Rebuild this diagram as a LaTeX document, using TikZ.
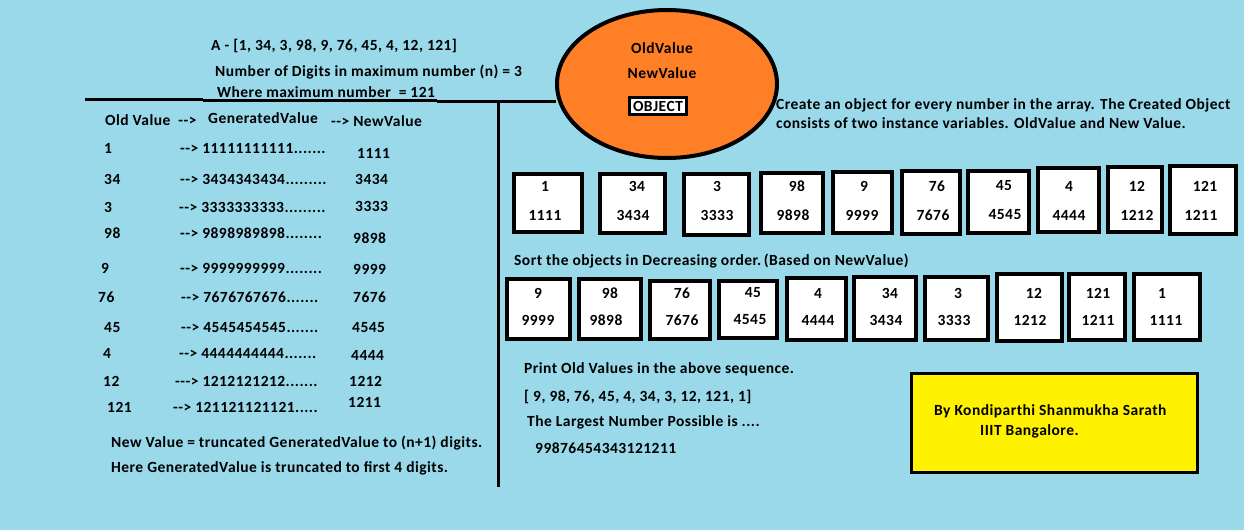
\documentclass[tikz,border=0pt]{standalone}
\usepackage{fontspec}
\setmainfont{Carlito}[LetterSpace=3]
\definecolor{bgblue}{HTML}{99D9EA}
\definecolor{porange}{HTML}{FF7F27}
\definecolor{pyellow}{HTML}{FFF200}
\begin{document}
\begin{tikzpicture}[x=1pt,y=-1pt,
  every node/.style={font=\bfseries\fontsize{15.5}{18}\selectfont, inner sep=0pt},
  t/.style={anchor=base west},
  c/.style={anchor=center},
  obj/.style={draw=black, line width=4pt, fill=white, rectangle, inner sep=0pt},
  rule/.style={draw=black, line width=3pt}]
\fill[bgblue] (0,0) rectangle (1244,530);
\useasboundingbox (0,0) rectangle (1244,530);

% header
\node[t] (ha) at (211,50) {A - [1, 34, 3, 98, 9, 76, 45, 4, 12, 121]};
\node[t] (hb) at (215,76) {Number of Digits in maximum number (n) = 3};
\node[t] (hc) at (217,97) {Where maximum number\ \ = 121};

% rules
\draw[rule] (85,99) -- (203,99);
\draw[rule] (203,100) -- (437,100);
\draw[rule] (437,101) -- (556,101);
\draw[rule] (498,100) -- (498,487);

% table header
\node[t] (th1) at (105,125) {Old Value\ \ -{}->};
\node[t] (th2) at (208,123) {GeneratedValue};
\node[t] (th3) at (331,126) {-{}-> NewValue};

% table rows
\node[t] (o1) at (104,153) {1};   \node[t] (g1) at (180,153) {-{}-> 11111111111.......};  \node[t] (v1) at (357,158) {1111};
\node[t] (o2) at (104,184) {34};  \node[t] (g2) at (180,184) {-{}-> 3434343434.........}; \node[t] (v2) at (355,184) {3434};
\node[t] (o3) at (104,212) {3};   \node[t] (g3) at (179,212) {-{}-> 3333333333.........}; \node[t] (v3) at (355,211) {3333};
\node[t] (o4) at (104,238) {98};  \node[t] (g4) at (180,238) {-{}-> 9898989898........};  \node[t] (v4) at (353,243) {9898};
\node[t] (o5) at (101,273) {9};   \node[t] (g5) at (180,273) {-{}-> 9999999999........};  \node[t] (v5) at (353,274) {9999};
\node[t] (o6) at (98,302) {76};   \node[t] (g6) at (181,302) {-{}-> 7676767676.......};   \node[t] (v6) at (353,302) {7676};
\node[t] (o7) at (104,332) {45};  \node[t] (g7) at (181,332) {-{}-> 4545454545.......};   \node[t] (v7) at (352,332) {4545};
\node[t] (o8) at (103,358) {4};   \node[t] (g8) at (179,358) {-{}-> 4444444444.......};   \node[t] (v8) at (351,360) {4444};
\node[t] (o9) at (103,386) {12};  \node[t] (g9) at (175,386) {-{}-{}-> 1212121212.......};\node[t] (v9) at (349,386) {1212};
\node[t] (o10) at (107,412) {121};\node[t] (g10) at (173,412) {-{}-> 121121121121.....};  \node[t] (v10) at (348,407) {1211};

\node[t] (f1) at (111,447) {New Value = truncated GeneratedValue to (n+1) digits.};
\node[t] (f2) at (111,472) {Here GeneratedValue is truncated to first 4 digits.};

% ellipse object
\draw[line width=4pt, fill=porange] (667,84) ellipse [x radius=110, y radius=74];
\node[c] (eo) at (662,48) {OldValue};
\node[c] (en) at (662,73) {NewValue};
\node[draw=black, fill=white, line width=2.5pt, minimum width=57, minimum height=17, inner sep=0pt] (eob) at (658,106) {OBJECT};
\node[t] (d1) at (776,109) {Create an object for every number in the array. The Created Object};
\node[t] (d2) at (776,128) {consists of two instance variables. OldValue and New Value.};

% row 1 objects
\node[obj, minimum width=68, minimum height=58] (a1) at (548,203) {};
\node[obj, minimum width=65, minimum height=59] (a2) at (632.5,203.5) {};
\node[obj, minimum width=65, minimum height=61] (a3) at (716.5,204.5) {};
\node[obj, minimum width=62, minimum height=60] (a4) at (792,203) {};
\node[obj, minimum width=59, minimum height=61] (a5) at (862.5,202.5) {};
\node[obj, minimum width=58, minimum height=63] (a6) at (931,202.5) {};
\node[obj, minimum width=61, minimum height=62] (a7) at (998.5,202) {};
\node[obj, minimum width=61, minimum height=64] (a8) at (1068.5,200) {};
\node[obj, minimum width=54, minimum height=65] (a9) at (1135,199.5) {};
\node[obj, minimum width=66, minimum height=68] (a10) at (1203,200) {};
\node[c] at (545,186) {1};    \node[c] at (545,215) {1111};
\node[c] at (637,186) {34};   \node[c] at (633,215) {3434};
\node[c] at (717,186) {3};    \node[c] at (717,215) {3333};
\node[c] at (797,186) {98};   \node[c] at (793,215) {9898};
\node[c] at (864,186) {9};    \node[c] at (862,215) {9999};
\node[c] at (937,186) {76};   \node[c] at (933,215) {7676};
\node[c] at (1004,186) {45};  \node[c] at (1005,215) {4545};
\node[c] at (1069,186) {4};   \node[c] at (1069,215) {4444};
\node[c] at (1137,186) {12};  \node[c] at (1137,215) {1212};
\node[c] at (1205,186) {121}; \node[c] at (1201,215) {1211};

\node[t] (s1) at (514,265) {Sort the objects in Decreasing order.\,(Based on NewValue)};

% row 2 objects
\node[obj, minimum width=63, minimum height=60] (b1) at (538.5,309) {};
\node[obj, minimum width=62, minimum height=60] (b2) at (610,309) {};
\node[obj, minimum width=60, minimum height=58] (b3) at (680,310) {};
\node[obj, minimum width=58, minimum height=57] (b4) at (748,309.5) {};
\node[obj, minimum width=59, minimum height=62] (b5) at (816.5,309) {};
\node[obj, minimum width=62, minimum height=63] (b6) at (885,308.5) {};
\node[obj, minimum width=63, minimum height=63] (b7) at (956.5,308.5) {};
\node[obj, minimum width=65, minimum height=67] (b8) at (1029.5,307.5) {};
\node[obj, minimum width=56, minimum height=66] (b9) at (1097,307) {};
\node[obj, minimum width=66, minimum height=66] (b10) at (1167,307) {};
\node[c] at (538,293) {9};    \node[c] at (538,320) {9999};
\node[c] at (610,293) {98};   \node[c] at (606,320) {9898};
\node[c] at (682,293) {76};   \node[c] at (682,320) {7676};
\node[c] at (753,293) {45};   \node[c] at (750,320) {4545};
\node[c] at (818,293) {4};    \node[c] at (818,320) {4444};
\node[c] at (890,293) {34};   \node[c] at (886,320) {3434};
\node[c] at (958,293) {3};    \node[c] at (954,320) {3333};
\node[c] at (1034,293) {12};  \node[c] at (1030,320) {1212};
\node[c] at (1098,293) {121}; \node[c] at (1098,320) {1211};
\node[c] at (1162,293) {1};   \node[c] at (1166,320) {1111};

% bottom text
\node[t] (p1) at (524,373) {Print Old Values in the above sequence.};
\node[t] (p2) at (524,401) {[ 9, 98, 76, 45, 4, 34, 3, 12, 121, 1]};
\node[t] (p3) at (527,426) {The Largest Number Possible is ....};
\node[t] (p4) at (535,453) {99876454343121211};

% author box
\node[draw=black, fill=pyellow, line width=3pt, minimum width=286, minimum height=99] (auth) at (1054.5,423) {};
\node[t] (au1) at (934,415) {By Kondiparthi Shanmukha Sarath};
\node[t] (au2) at (980,435) {IIIT Bangalore.};
\end{tikzpicture}
\end{document}
